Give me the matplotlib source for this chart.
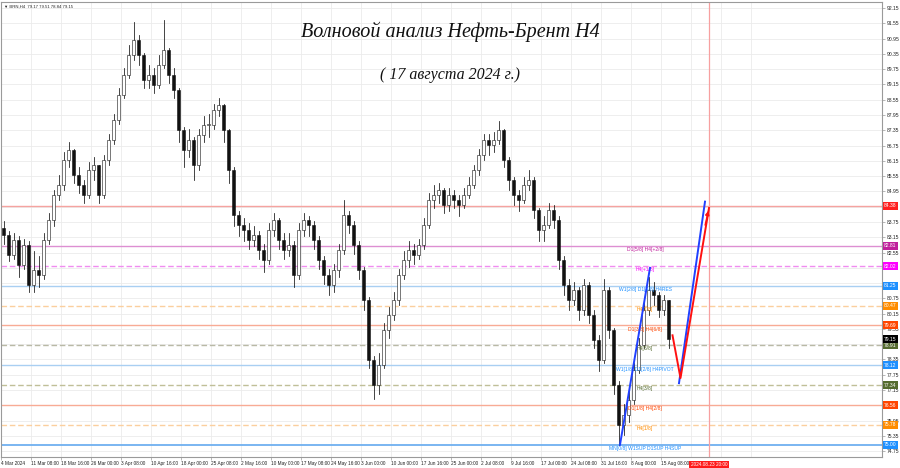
import matplotlib
matplotlib.use("Agg")
import matplotlib.pyplot as plt
from matplotlib.patches import Rectangle

# ---------------- data ----------------
first_open = 83.50
close = [83.24, 82.45, 83.04, 82.06, 82.85, 81.28, 81.86, 81.67, 83.04, 83.83,
         84.81, 85.20, 86.19, 86.58, 85.60, 85.20, 84.81, 85.79, 85.99, 84.81,
         86.19, 86.97, 87.76, 88.74, 89.53, 90.31, 90.90, 90.31, 89.33, 89.53,
         89.14, 89.92, 90.51, 89.53, 88.94, 87.36, 86.58, 86.97, 85.99, 87.17,
         87.56, 87.56, 88.15, 88.35, 87.36, 85.79, 84.02, 83.63, 83.44, 83.04,
         83.24, 82.65, 82.26, 83.44, 83.83, 83.04, 82.65, 82.85, 81.67, 83.44,
         83.83, 83.63, 83.04, 82.26, 81.67, 81.28, 81.86, 82.65, 84.02, 83.63,
         82.85, 81.86, 80.69, 78.33, 77.35, 78.13, 79.51, 80.10, 80.69, 81.67,
         82.26, 82.65, 82.45, 82.85, 83.63, 84.61, 84.81, 85.00, 84.42, 84.81,
         84.61, 84.42, 84.81, 85.20, 85.79, 86.38, 86.97, 86.78, 86.97, 87.36,
         86.19, 85.40, 84.81, 84.61, 85.20, 85.40, 84.22, 83.44, 83.63, 84.22,
         83.83, 82.26, 81.28, 80.69, 81.08, 80.29, 81.28, 80.10, 79.11, 78.33,
         81.08, 79.51, 77.35, 75.77, 76.16, 76.76, 77.94, 78.92, 80.29, 81.08,
         80.88, 80.29, 80.69, 79.15]
high = [83.8, 83.4, 83.3, 83.2, 83.1, 83.0, 82.6, 82.4, 83.3, 84.1,
        85.0, 85.6, 86.5, 86.9, 86.6, 85.9, 85.4, 86.1, 86.3, 86.0,
        86.4, 87.2, 88.0, 89.0, 89.8, 90.7, 91.6, 91.1, 90.4, 89.9,
        89.8, 90.3, 91.7, 90.6, 89.8, 89.0, 87.5, 87.4, 87.1, 87.4,
        87.9, 88.0, 88.4, 88.6, 88.4, 87.4, 85.9, 84.2, 83.9, 83.7,
        83.6, 83.4, 82.9, 83.7, 84.1, 83.9, 83.3, 83.3, 83.0, 83.7,
        84.1, 84.0, 83.8, 83.2, 82.4, 81.9, 82.1, 82.9, 84.6, 84.2,
        83.8, 83.0, 82.0, 80.8, 78.5, 78.6, 79.8, 80.4, 81.0, 81.9,
        82.6, 83.0, 82.9, 83.1, 83.9, 84.9, 85.2, 85.3, 85.1, 85.1,
        85.0, 84.8, 85.1, 85.5, 86.0, 86.6, 87.2, 87.2, 87.3, 87.7,
        87.4, 86.3, 85.5, 85.0, 85.5, 85.8, 85.5, 84.3, 84.0, 84.5,
        84.4, 84.0, 82.4, 81.5, 81.4, 81.2, 81.5, 81.4, 80.3, 79.3,
        81.5, 81.2, 79.6, 77.5, 76.6, 77.1, 78.2, 79.2, 80.6, 81.6,
        81.4, 81.0, 80.9, 80.7]
low = [82.9, 82.2, 82.3, 81.6, 81.9, 81.0, 81.0, 81.2, 81.5, 82.9,
       83.6, 84.6, 85.0, 85.9, 85.3, 84.9, 84.5, 84.7, 85.4, 84.5,
       84.7, 86.0, 86.8, 87.6, 88.6, 89.4, 90.1, 89.9, 89.0, 89.0,
       88.8, 89.0, 89.8, 89.2, 88.6, 86.9, 85.9, 86.3, 85.4, 85.8,
       86.9, 87.1, 87.4, 87.9, 86.9, 85.3, 83.6, 83.2, 83.0, 82.7,
       82.8, 82.3, 81.8, 82.1, 83.2, 82.7, 82.3, 82.4, 81.2, 81.5,
       83.2, 83.2, 82.7, 81.9, 81.3, 80.9, 81.0, 81.6, 82.5, 83.3,
       82.5, 81.5, 80.3, 78.0, 76.8, 77.0, 78.0, 79.2, 79.9, 80.5,
       81.5, 82.0, 82.1, 82.3, 82.7, 83.5, 84.3, 84.5, 84.1, 84.2,
       84.3, 84.0, 84.3, 84.7, 85.1, 85.6, 86.2, 86.4, 86.5, 86.8,
       85.9, 85.0, 84.4, 84.2, 84.5, 85.0, 83.9, 83.0, 83.0, 83.5,
       83.5, 81.9, 80.9, 80.3, 80.5, 79.9, 80.1, 79.8, 78.8, 77.9,
       78.2, 79.2, 77.0, 75.0, 75.4, 75.9, 76.6, 77.8, 78.8, 80.1,
       80.5, 80.0, 80.1, 78.8]

date_labels = ["4 Mar 2024", "11 Mar 08:00", "18 Mar 16:00", "26 Mar 00:00", "3 Apr 08:00",
               "10 Apr 16:00", "18 Apr 00:00", "25 Apr 08:00", "2 May 16:00", "10 May 00:00",
               "17 May 08:00", "24 May 16:00", "3 Jun 00:00", "10 Jun 00:00", "17 Jun 16:00",
               "25 Jun 00:00", "2 Jul 08:00", "9 Jul 16:00", "17 Jul 00:00", "24 Jul 08:00",
               "31 Jul 16:00", "8 Aug 00:00", "15 Aug 08:00"]
future_label = "2024.08.23 20:00"

levels = [84.38, 82.81, 82.02, 81.25, 80.47, 79.69, 78.91, 78.12, 77.34, 76.56, 75.78, 75.00]
level_names = ["", "D1[5/8] H4[+2/8]", "H4[+1/8]", "W1[2/8] D1[4/8] H4RES", "H4[7/8]",
               "D1[3/8] H4[6/8]", "H4[5/8]", "W1[1/8] D1[2/8] H4PIVOT", "H4[3/8]",
               "D1[1/8] H4[2/8]", "H4[1/8]", "MN[0/8] W1SUP D1SUP H4SUP"]
current_price = 79.15

# forecast waves (bar position, price)
blue_wave1_x = [123.3, 129.3]
blue_wave1_p = [75.00, 81.95]
blue_wave2_x = [135.1, 140.3]
blue_wave2_p = [77.42, 84.55]
red_fc_x = [133.8, 135.4, 141.1]
red_fc_p = [79.30, 77.62, 84.30]

# ---------------- styles ----------------
line_colors = ["#f5a3a0", "#dd8fd2", "#f08cf0", "#a9cff2", "#fbcf9e", "#f8ab95",
               "#b9b9a6", "#a9cff2", "#c0bf98", "#f8ab95", "#fbcf9e", "#6fb0f0"]
line_styles = ["-", "-", "--", "-", "--", "-", "--", "-", "--", "-", "--", "-"]
box_colors = ["#ff2020", "#c0209c", "#ff00ff", "#1e90ff", "#ff8c00", "#ff4500",
              "#556b2f", "#1e90ff", "#556b2f", "#ff4500", "#ff8c00", "#1e90ff"]
small_font = "Liberation Sans"

fig = plt.figure(figsize=(9, 4.68), dpi=100)
ax = fig.add_axes([1 / 900, 11 / 468, 881 / 900, 455 / 468])
ymin, ymax = 74.52, 92.39
ax.set_ylim(ymin, ymax)
ax.set_xlim(-0.5, 175.7)

# grid
yt = [round(74.75 + 0.6 * k, 2) for k in range(30)]
xt = [-0.5 + 6 * k for k in range(len(date_labels))]
for v in yt:
    ax.axhline(v, color="#ebebeb", lw=0.6, zorder=0)
for v in xt + [xt[-1] + 6 * k for k in range(1, 4)]:
    ax.axvline(v, color="#ebebeb", lw=0.6, zorder=0)

# levels
for lv, c, ls in zip(levels, line_colors, line_styles):
    ax.axhline(lv, color=c, lw=1.0 if lv != 75.0 else 1.3, ls=ls,
               dashes=(4, 2) if ls == "--" else (None, None), zorder=1)
ax.axvline(141.1, color="#f7a0a0", lw=0.9, zorder=1)

# candles
opens = [first_open] + close[:-1]
bw = 0.6
for i, (o, c, h, l) in enumerate(zip(opens, close, high, low)):
    ax.plot([i, i], [l, h], color="#111111", lw=0.55, zorder=3)
    bull = c >= o
    ax.add_patch(Rectangle((i - bw / 2, min(o, c)), bw, max(abs(c - o), 0.02),
                           facecolor="white" if bull else "#111111",
                           edgecolor="#111111", lw=0.4, zorder=4))

# level labels in chart
for lv, name, col in zip(levels, level_names, box_colors):
    if name:
        ax.text(128.3, lv - 0.05, name, color=col, fontsize=3.6, family=small_font,
                ha="center", va="top", zorder=5)

# forecast lines
ax.plot(blue_wave1_x, blue_wave1_p, color="#2040ff", lw=1.4, zorder=6)
ax.plot(blue_wave2_x, blue_wave2_p, color="#2040ff", lw=1.4, zorder=6)
ax.plot(red_fc_x, red_fc_p, color="#ff1010", lw=1.4, zorder=6)
ax.annotate("", xy=(red_fc_x[-1], red_fc_p[-1]), xytext=(red_fc_x[-2] + 4.8, red_fc_p[-2] + 5.9),
            arrowprops=dict(arrowstyle="-|>", color="#ff1010", lw=1.0, mutation_scale=6), zorder=7)

# axes styling
for s in ax.spines.values():
    s.set_color("#9a9a9a")
    s.set_linewidth(0.8)
ax.yaxis.tick_right()
ax.set_yticks(yt)
boxed = levels + [current_price]
ytl = ["" if any(abs(v - b) < 0.1 for b in boxed) else f"{v:.2f}" for v in yt]
ax.set_yticklabels(ytl, fontsize=3.6, family=small_font, color="#222222")
ax.set_xticks(xt)
ax.set_xticklabels(date_labels, fontsize=3.4, family=small_font, ha="left", color="#222222")
ax.tick_params(axis="both", length=2, width=0.5, color="#9a9a9a", pad=1.2)

# right price boxes
for lv, bc in zip(levels, box_colors):
    ax.text(1.0025, (lv - ymin) / (ymax - ymin), f"{lv:.2f}", transform=ax.transAxes,
            fontsize=3.6, family=small_font, color="white", ha="left", va="center",
            bbox=dict(boxstyle="square,pad=0.3", fc=bc, ec="none"), zorder=8, clip_on=False)
ax.text(1.0025, (current_price - ymin) / (ymax - ymin), f"{current_price:.2f}",
        transform=ax.transAxes, fontsize=3.6, family=small_font, color="white", ha="left",
        va="center", bbox=dict(boxstyle="square,pad=0.3", fc="black", ec="none"),
        zorder=9, clip_on=False)

# future time box
ax.text(141.1, -0.012, future_label, transform=ax.get_xaxis_transform(), fontsize=3.4,
        family=small_font, color="white", ha="center", va="top",
        bbox=dict(boxstyle="square,pad=0.3", fc="#ff1a1a", ec="none"), clip_on=False)

# header
ax.text(0.003, 0.994, "\u25bc BRN,H4  79.17 79.51 78.84 79.15", transform=ax.transAxes,
        fontsize=3.1, family=["Liberation Sans", "DejaVu Sans"], color="#222222",
        ha="left", va="top")

# titles
fig.text(450 / 900, 1 - 32 / 468, "Волновой анализ Нефть-Брент H4", fontsize=14.5,
         family="Liberation Serif", style="italic", ha="center", va="center", color="#111111")
fig.text(450 / 900, 1 - 75 / 468, "( 17 августа 2024 г.)", fontsize=11.5,
         family="Liberation Serif", style="italic", ha="center", va="center", color="#111111")

fig.savefig("out.png", dpi=100)
